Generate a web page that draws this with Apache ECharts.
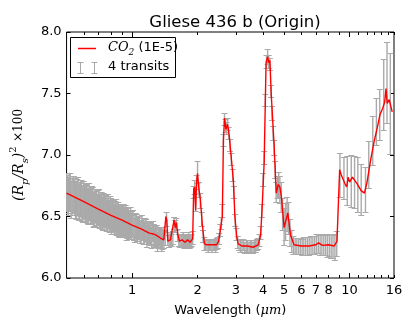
<!DOCTYPE html>
<html><head><meta charset="utf-8">
<script src="https://cdn.jsdelivr.net/npm/echarts@6/dist/echarts.min.js"></script>
<style>html,body{margin:0;padding:0;background:#fff}#c{width:415px;height:332px}</style>
</head><body><div id="c"></div>
<script>
// CO2 (1E-5) model spectrum
const modelWl = [0.5,0.6,0.7,0.8,0.9,1.0,1.1,1.2,1.24,1.255,1.27,1.3,1.35,1.4,1.42,1.43,1.445,1.46,1.5,1.53,1.56,1.58,1.6,1.62,1.65,1.7,1.75,1.8,1.85,1.9,1.92,1.94,1.96,1.98,2.0,2.03,2.06,2.1,2.15,2.2,2.3,2.45,2.5,2.55,2.6,2.63,2.66,2.7,2.75,2.8,2.85,2.92,2.97,3.02,3.07,3.2,3.4,3.6,3.8,3.9,3.97,4.05,4.13,4.2,4.25,4.3,4.37,4.5,4.6,4.7,4.78,4.86,5.0,5.2,5.35,5.55,6.0,6.5,7.0,7.2,7.5,8.0,8.5,8.75,9.0,9.15,9.3,9.5,9.7,9.85,10.0,10.3,10.8,11.3,11.7,12.0,12.5,13.0,13.4,13.6,13.8,14.2,14.5,14.7,14.9,15.2,15.7];
const modelVal = [6.69,6.62,6.56,6.51,6.47,6.43,6.40,6.365,6.36,6.375,6.355,6.345,6.325,6.31,6.31,6.50,6.47,6.30,6.31,6.32,6.47,6.41,6.45,6.36,6.30,6.31,6.29,6.31,6.29,6.32,6.72,6.74,6.55,6.78,6.85,6.72,6.64,6.45,6.28,6.27,6.27,6.27,6.30,6.40,6.50,7.12,7.30,7.21,7.25,7.15,7.00,6.80,6.50,6.35,6.28,6.26,6.26,6.25,6.27,6.35,6.60,6.95,7.75,7.80,7.75,7.77,7.47,7.07,6.69,6.76,6.74,6.66,6.41,6.53,6.35,6.27,6.26,6.26,6.27,6.285,6.265,6.27,6.26,6.30,6.88,6.84,6.85,6.77,6.74,6.82,6.78,6.82,6.77,6.71,6.69,6.77,6.96,7.12,7.22,7.21,7.33,7.38,7.43,7.54,7.42,7.45,7.35];

// 4 transits: [wavelength, value, error]
const transits = [
[0.50,6.70,0.155],[0.51,6.67,0.155],[0.52,6.70,0.15],[0.53,6.66,0.15],[0.54,6.68,0.15],[0.55,6.64,0.15],
[0.56,6.66,0.148],[0.57,6.62,0.148],[0.58,6.65,0.146],[0.59,6.61,0.146],[0.60,6.64,0.145],[0.61,6.60,0.144],
[0.62,6.62,0.143],[0.63,6.58,0.142],[0.64,6.61,0.14],[0.65,6.59,0.14],[0.66,6.60,0.138],[0.67,6.56,0.137],
[0.68,6.59,0.136],[0.69,6.55,0.135],[0.70,6.58,0.134],[0.71,6.54,0.133],[0.72,6.57,0.132],[0.73,6.53,0.131],
[0.74,6.56,0.13],[0.75,6.52,0.128],[0.76,6.55,0.127],[0.77,6.51,0.126],[0.78,6.54,0.125],[0.79,6.50,0.124],
[0.80,6.53,0.123],[0.81,6.50,0.122],[0.82,6.51,0.121],[0.83,6.48,0.12],[0.84,6.51,0.119],[0.85,6.47,0.118],
[0.86,6.50,0.117],[0.87,6.46,0.116],[0.88,6.49,0.115],[0.89,6.46,0.114],[0.90,6.48,0.113],[0.91,6.45,0.112],
[0.92,6.47,0.111],[0.93,6.44,0.11],[0.94,6.47,0.109],[0.95,6.43,0.108],[0.96,6.46,0.107],[0.97,6.42,0.106],
[0.98,6.45,0.105],[0.99,6.42,0.104],[1.00,6.44,0.103],[1.02,6.41,0.1],[1.04,6.43,0.098],[1.06,6.40,0.096],
[1.08,6.41,0.095],[1.10,6.38,0.093],[1.12,6.40,0.091],[1.14,6.37,0.09],[1.16,6.39,0.088],[1.18,6.36,0.087],
[1.20,6.37,0.085],[1.22,6.35,0.084],[1.24,6.38,0.082],[1.26,6.36,0.081],[1.28,6.34,0.08],[1.30,6.35,0.078],
[1.32,6.32,0.077],[1.34,6.34,0.075],[1.36,6.32,0.074],[1.38,6.31,0.072],[1.40,6.31,0.07],
[1.42,6.33,0.06],[1.44,6.48,0.055],[1.46,6.32,0.055],[1.48,6.30,0.05],[1.50,6.32,0.05],[1.52,6.31,0.05],
[1.54,6.33,0.05],[1.56,6.45,0.05],[1.58,6.42,0.05],[1.60,6.44,0.05],[1.62,6.35,0.05],[1.64,6.31,0.05],
[1.66,6.30,0.05],[1.68,6.31,0.05],[1.70,6.30,0.05],[1.72,6.32,0.05],[1.74,6.29,0.05],[1.76,6.30,0.05],
[1.78,6.31,0.05],[1.80,6.30,0.05],[1.82,6.32,0.05],[1.84,6.29,0.05],[1.86,6.30,0.05],[1.88,6.31,0.05],
[1.90,6.33,0.05],[1.92,6.70,0.05],[1.94,6.74,0.055],[1.96,6.60,0.055],[1.98,6.78,0.055],[2.00,6.86,0.09],
[2.03,6.72,0.06],[2.06,6.63,0.06],[2.09,6.48,0.055],[2.12,6.34,0.05],[2.15,6.28,0.05],[2.18,6.27,0.045],
[2.21,6.27,0.045],[2.24,6.26,0.045],[2.27,6.27,0.045],[2.30,6.27,0.045],[2.33,6.26,0.045],[2.36,6.27,0.045],
[2.39,6.27,0.045],[2.42,6.26,0.045],[2.45,6.28,0.045],[2.48,6.29,0.045],[2.51,6.32,0.045],[2.54,6.39,0.05],
[2.57,6.45,0.05],[2.60,6.55,0.05],[2.63,7.12,0.05],[2.66,7.29,0.05],[2.69,7.24,0.05],[2.72,7.22,0.05],
[2.75,7.25,0.05],[2.78,7.18,0.05],[2.82,7.08,0.05],[2.86,6.97,0.05],[2.90,6.84,0.05],[2.94,6.70,0.05],
[2.98,6.47,0.05],[3.02,6.36,0.05],[3.06,6.29,0.05],[3.10,6.27,0.045],[3.15,6.26,0.045],[3.20,6.26,0.045],
[3.25,6.27,0.045],[3.30,6.25,0.045],[3.35,6.26,0.045],[3.40,6.26,0.045],[3.45,6.25,0.045],[3.50,6.26,0.045],
[3.55,6.26,0.045],[3.60,6.25,0.045],[3.65,6.26,0.045],[3.70,6.26,0.045],[3.75,6.27,0.045],[3.80,6.28,0.045],
[3.85,6.31,0.05],[3.90,6.37,0.05],[3.95,6.55,0.05],[4.00,6.80,0.05],[4.05,6.98,0.05],[4.10,7.45,0.05],
[4.15,7.76,0.05],[4.20,7.80,0.06],[4.25,7.76,0.05],[4.30,7.74,0.05],[4.35,7.52,0.05],[4.40,7.34,0.055],
[4.45,7.18,0.055],[4.50,7.06,0.06],[4.55,6.88,0.07],[4.60,6.70,0.08],[4.66,6.74,0.09],[4.72,6.76,0.1],
[4.78,6.72,0.11],[4.85,6.66,0.12],[4.92,6.52,0.13],[5.00,6.42,0.15],[5.08,6.46,0.15],[5.16,6.52,0.14],
[5.24,6.49,0.13],[5.32,6.37,0.11],[5.42,6.30,0.09],[5.52,6.27,0.075],[5.62,6.26,0.065],[5.72,6.26,0.065],
[5.83,6.26,0.065],[5.94,6.26,0.065],[6.05,6.25,0.065],[6.16,6.26,0.07],[6.28,6.26,0.07],[6.40,6.26,0.07],
[6.52,6.26,0.07],[6.65,6.27,0.075],[6.78,6.27,0.075],[6.91,6.27,0.075],[7.04,6.28,0.075],[7.18,6.28,0.08],
[7.32,6.27,0.08],[7.46,6.27,0.08],[7.61,6.27,0.085],[7.76,6.27,0.085],[7.91,6.26,0.09],[8.07,6.27,0.09],
[8.23,6.26,0.095],[8.39,6.26,0.1],[8.56,6.25,0.1],[8.73,6.28,0.1],
[9.03,6.84,0.18],[9.42,6.81,0.17],[9.76,6.79,0.20],[10.18,6.79,0.21],[10.54,6.78,0.21],[10.91,6.76,0.22],
[11.31,6.72,0.21],[11.83,6.72,0.18],[12.25,6.92,0.19],[12.78,7.12,0.2],[13.28,7.27,0.19],[13.76,7.33,0.21],
[14.35,7.49,0.29],[14.86,7.59,0.33],[15.39,7.42,0.41]
];
// further transit points in the densely sampled optical range
const transitsOptical = [
[0.505,6.68,0.155],[0.515,6.70,0.152],[0.525,6.64,0.15],[0.535,6.68,0.15],[0.545,6.66,0.15],[0.555,6.63,0.149],
[0.565,6.67,0.148],[0.575,6.63,0.147],[0.585,6.65,0.146],[0.595,6.60,0.145],[0.605,6.63,0.144],[0.615,6.61,0.143],
[0.625,6.59,0.142],[0.635,6.63,0.141],[0.645,6.58,0.14],[0.655,6.61,0.139],[0.665,6.55,0.138],[0.675,6.59,0.137],
[0.685,6.57,0.136],[0.695,6.55,0.135],[0.705,6.59,0.134],[0.715,6.55,0.133],[0.725,6.57,0.132],[0.735,6.52,0.131],
[0.745,6.55,0.13],[0.755,6.54,0.128],[0.765,6.51,0.127],[0.775,6.56,0.126],[0.785,6.51,0.125],[0.795,6.54,0.124],
[0.805,6.48,0.123],[0.815,6.52,0.122],[0.825,6.50,0.121],[0.835,6.48,0.12],[0.845,6.52,0.119],[0.855,6.48,0.118],
[0.865,6.50,0.117],[0.875,6.45,0.116],[0.885,6.49,0.115],[0.895,6.47,0.114],[0.905,6.45,0.113],[0.915,6.49,0.112],
[0.925,6.45,0.111],[0.935,6.48,0.11],[0.945,6.42,0.109],[0.955,6.46,0.108],[0.965,6.44,0.107],[0.975,6.42,0.106],
[0.985,6.47,0.105],[0.995,6.42,0.104],[1.01,6.45,0.101],[1.03,6.39,0.099],[1.05,6.42,0.097],[1.07,6.41,0.096],
[1.09,6.38,0.094],[1.11,6.42,0.092],[1.13,6.37,0.09],[1.15,6.40,0.089],[1.17,6.34,0.088],[1.19,6.38,0.086],
[1.21,6.36,0.085],[1.23,6.33,0.083],[1.25,6.38,0.082],[1.27,6.33,0.08],[1.29,6.35,0.079],[1.31,6.30,0.077],
[1.33,6.33,0.076],[1.35,6.32,0.075],[1.37,6.29,0.073],[1.39,6.34,0.071]
];

const xLabelValues = [1,2,3,4,5,6,7,8,10,16];
const xMajorTicks = [1,10];
const xMinorTicks = [0.6,0.7,0.8,0.9,2,3,4,5,6,7,8,9,11,12,13,14,15,16];

const FONT = 'DejaVu Sans';
const chart = echarts.init(document.getElementById('c'), null, {renderer:'canvas'});

function xAx(extra){
  return Object.assign({
    type:'log', logBase:10, min:0.5, max:16, gridIndex:0,
    axisLine:{show:false}, splitLine:{show:false}, minorTick:{show:false}, minorSplitLine:{show:false},
    axisLabel:{show:false}
  }, extra);
}
function yAx(extra){
  return Object.assign({
    type:'value', min:6, max:8, interval:0.5, gridIndex:0,
    axisLine:{show:false}, splitLine:{show:false},
    axisTick:{show:true, inside:true, length:4, lineStyle:{color:'#000'}}
  }, extra);
}

function errorBarItem(params, api){
  const x = api.value(0), v = api.value(1), e = api.value(2);
  const top = api.coord([x, v + e]);
  const bot = api.coord([x, v - e]);
  const px = top[0];
  const ty = Math.round(top[1]) + 0.5, by = Math.round(bot[1]) + 0.5;
  const hw = 3;
  const capStyle = {stroke:'#aaaaaa', lineWidth:1, fill:null};
  const barStyle = {stroke:'#aaaaaa', lineWidth:1.4, fill:null};
  return {type:'group', children:[
    {type:'line', shape:{x1:px, y1:ty, x2:px, y2:by}, style:barStyle},
    {type:'line', shape:{x1:px-hw, y1:ty, x2:px+hw, y2:ty}, style:capStyle},
    {type:'line', shape:{x1:px-hw, y1:by, x2:px+hw, y2:by}, style:capStyle}
  ]};
}

const option = {
  animation:false,
  backgroundColor:'#fff',
  title:{text:'Gliese 436 b (Origin)', left:230, top:9, textAlign:'center',
    textStyle:{fontFamily:FONT, fontSize:16.5, fontWeight:'normal', color:'#000'}},
  grid:{left:65, right:21, top:32, bottom:54, show:true, borderColor:'#000', borderWidth:1, backgroundColor:'transparent'},
  xAxis:[
    xAx({position:'bottom',
      axisTick:{show:true, inside:true, length:5, customValues:xMajorTicks, lineStyle:{color:'#000'}},
      axisLabel:{show:true, customValues:xLabelValues, margin:6, color:'#000', fontFamily:FONT, fontSize:13,
        formatter:v=>String(Math.round(v))},
      name:'{n|Wavelength (}{m|μm}{n|)}', nameLocation:'middle', nameGap:26,
      nameTextStyle:{rich:{n:{fontFamily:FONT, fontSize:13, color:'#000'}, m:{fontFamily:'DejaVu Serif', fontStyle:'italic', fontSize:13, color:'#000'}}}
    }),
    xAx({position:'bottom', axisTick:{show:true, inside:true, length:3, customValues:xMinorTicks, lineStyle:{color:'#000'}}}),
    xAx({position:'top', axisTick:{show:true, inside:true, length:5, customValues:xMajorTicks, lineStyle:{color:'#000'}}}),
    xAx({position:'top', axisTick:{show:true, inside:true, length:3, customValues:xMinorTicks, lineStyle:{color:'#000'}}})
  ],
  yAxis:[
    yAx({position:'left',
      axisLabel:{show:true, margin:5, color:'#000', fontFamily:FONT, fontSize:13, formatter:v=>v.toFixed(1)},
      name:'{t|(R}{s|p}{t|/R}{s|s}{t|)}{u|2}{t| }{x|×100}', nameLocation:'middle', nameRotate:90, nameGap:26,
      nameTextStyle:{rich:{
        t:{fontFamily:'DejaVu Serif', fontStyle:'italic', fontSize:14, color:'#000', lineHeight:22, verticalAlign:'middle'},
        s:{fontFamily:'DejaVu Serif', fontStyle:'italic', fontSize:10, color:'#000', lineHeight:10, verticalAlign:'bottom'},
        u:{fontFamily:'DejaVu Serif', fontSize:10, color:'#000', lineHeight:10, verticalAlign:'top'},
        x:{fontFamily:'DejaVu Serif', fontSize:12, color:'#000', lineHeight:22, verticalAlign:'middle'}
      }}
    }),
    yAx({position:'right', axisLabel:{show:false}})
  ],
  series:[
    {
      type:'custom', name:'4 transits', xAxisIndex:0, yAxisIndex:0, clip:true, z:2,
      data:transits.concat(transitsOptical),
      renderItem:errorBarItem
    },
    {
      type:'line', name:'CO2 (1E-5)', xAxisIndex:0, yAxisIndex:0, z:5,
      showSymbol:false, symbol:'none', smooth:false,
      lineStyle:{color:'#ff0000', width:1.4},
      data:modelWl.map((w,i)=>[w, modelVal[i]])
    }
  ],
  graphic:[
    {type:'group', z:100, children:[
      {type:'rect', shape:{x:70.5, y:37.5, width:105, height:40}, style:{fill:'#fff', stroke:'#000', lineWidth:1}},
      {type:'line', shape:{x1:78, y1:48.5, x2:96, y2:48.5}, style:{stroke:'#ff0000', lineWidth:1.5}},
      {type:'text', x:108, y:48, style:{
        text:'{c|CO}{s|2}{n| (1E-5)}', verticalAlign:'middle', align:'left',
        rich:{
          c:{fontFamily:'DejaVu Serif', fontStyle:'italic', fontSize:13, fill:'#000', lineHeight:18, verticalAlign:'middle'},
          s:{fontFamily:'DejaVu Serif', fontStyle:'italic', fontSize:9, fill:'#000', lineHeight:9, verticalAlign:'bottom'},
          n:{fontFamily:FONT, fontSize:13, fill:'#000', lineHeight:18, verticalAlign:'middle'}
        }}},
      {type:'line', shape:{x1:80.5, y1:62.5, x2:80.5, y2:73.5}, style:{stroke:'#aaaaaa', lineWidth:1}},
      {type:'line', shape:{x1:77.5, y1:62.5, x2:83.5, y2:62.5}, style:{stroke:'#aaaaaa', lineWidth:1}},
      {type:'line', shape:{x1:77.5, y1:73.5, x2:83.5, y2:73.5}, style:{stroke:'#aaaaaa', lineWidth:1}},
      {type:'line', shape:{x1:94.5, y1:62.5, x2:94.5, y2:73.5}, style:{stroke:'#aaaaaa', lineWidth:1}},
      {type:'line', shape:{x1:91.5, y1:62.5, x2:97.5, y2:62.5}, style:{stroke:'#aaaaaa', lineWidth:1}},
      {type:'line', shape:{x1:91.5, y1:73.5, x2:97.5, y2:73.5}, style:{stroke:'#aaaaaa', lineWidth:1}},
      {type:'text', x:108, y:67, style:{text:'4 transits', fontFamily:FONT, fontSize:13, fill:'#000', verticalAlign:'middle', align:'left'}}
    ]}
  ]
};
chart.setOption(option);
</script>
</body></html>
